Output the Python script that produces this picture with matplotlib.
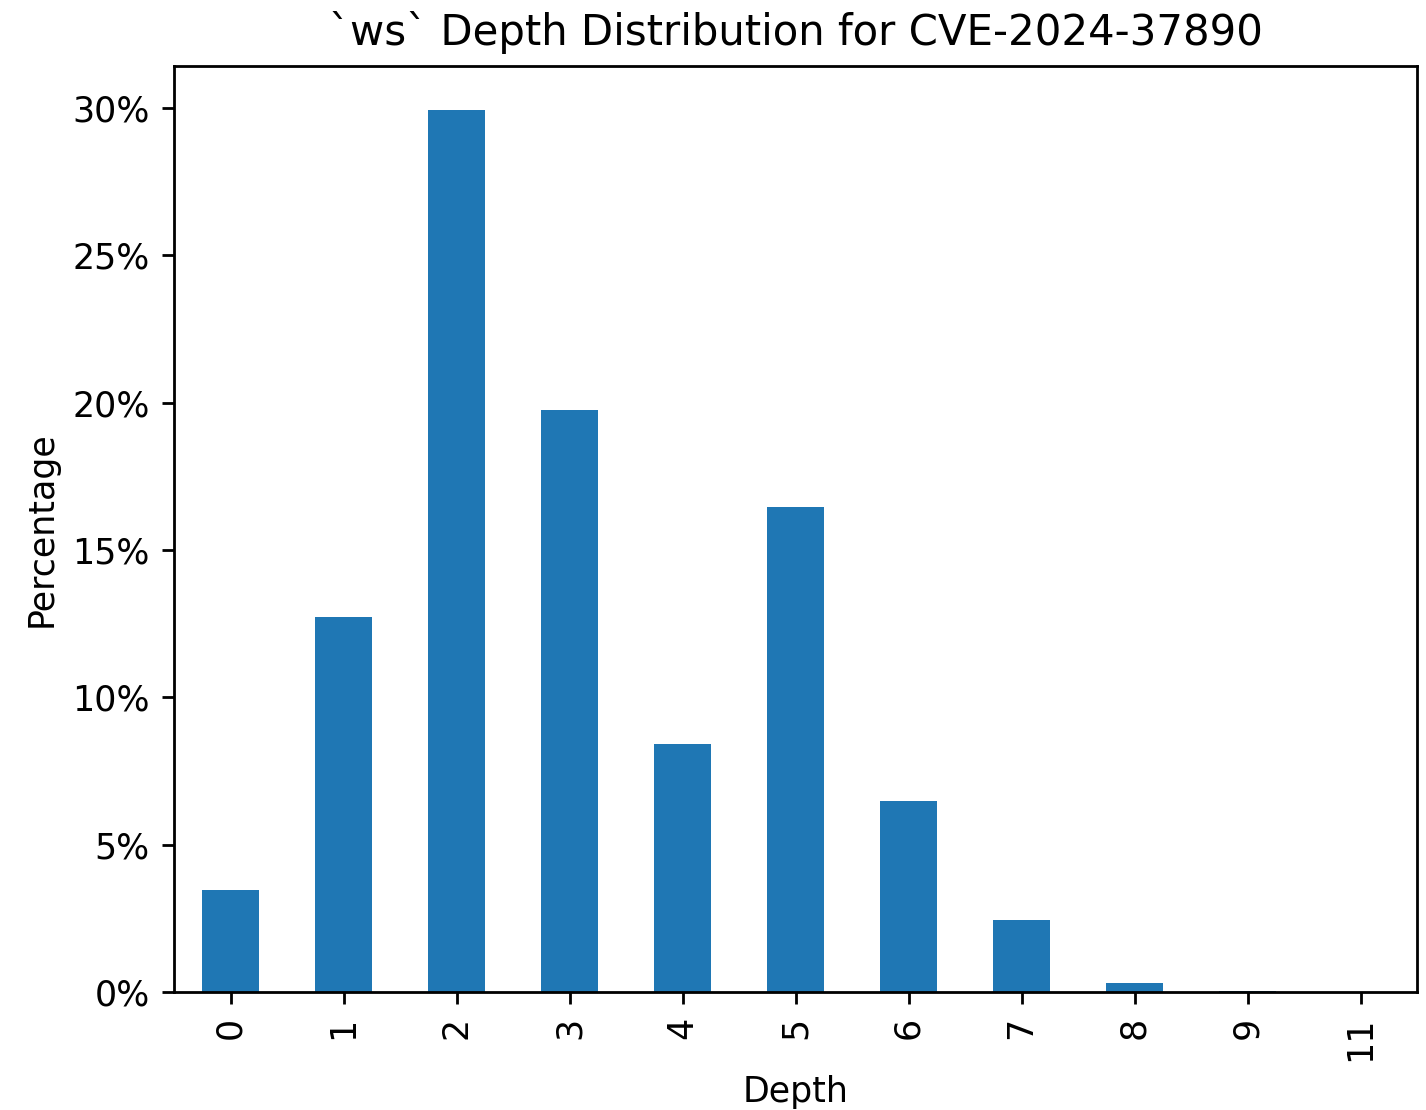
import matplotlib
matplotlib.use("Agg")
import matplotlib.pyplot as plt
from matplotlib.ticker import PercentFormatter
import numpy as np

depths = ["0", "1", "2", "3", "4", "5", "6", "7", "8", "9", "11"]
percentages = [3.46, 12.72, 29.93, 19.75, 8.42, 16.46, 6.48, 2.44, 0.31, 0.05, 0.01]

dpi = 251
fig = plt.figure(figsize=(1426 / dpi, 1110 / dpi), dpi=dpi)
ax = fig.add_axes([174 / 1426, 1 - 992 / 1110, (1417 - 174) / 1426, (992 - 66) / 1110])

x = np.arange(len(depths))
ax.bar(x, percentages, width=0.5, color="#1f77b4")
ax.set_xlim(-0.5, len(depths) - 0.5)
ax.set_ylim(0, max(percentages) * 1.05)
ax.set_xticks(x)
ax.set_xticklabels(depths, rotation=90)
ax.yaxis.set_major_formatter(PercentFormatter(100, decimals=0))
ax.set_xlabel("Depth")
ax.set_ylabel("Percentage")
ax.set_title("`ws` Depth Distribution for CVE-2024-37890")

fig.savefig("out.png", dpi=dpi)
